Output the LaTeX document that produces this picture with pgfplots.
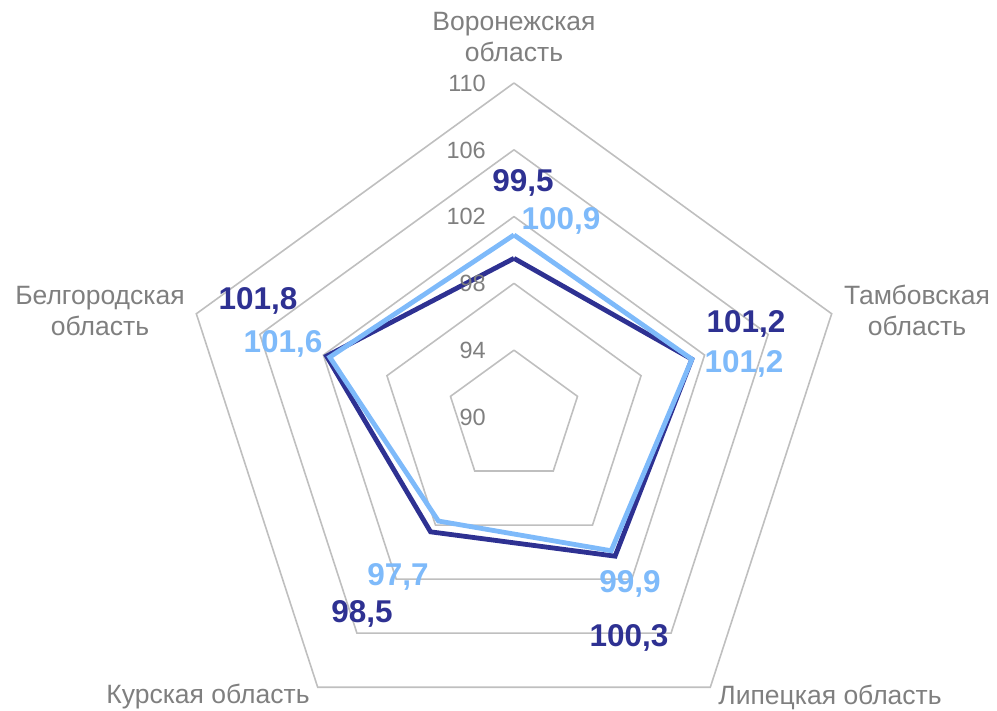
\documentclass[border=0pt]{standalone}
\usepackage{pgfplots}
\pgfplotsset{compat=1.18}
\usepackage{pgfplotstable}
\usepackage{fontspec}
\setmainfont{Liberation Sans}
\definecolor{darkS}{HTML}{2E3192}
\definecolor{lightS}{HTML}{7EBAFA}
\definecolor{gridc}{HTML}{BFBFBF}
\definecolor{txtc}{HTML}{7F7F7F}
\pgfplotstableread{
a dark light
90 99.5 100.9
18 101.2 101.2
-54 100.3 99.9
-126 98.5 97.7
162 101.8 101.6
90 99.5 100.9
}\datatab
\begin{document}
\begin{tikzpicture}
\useasboundingbox (-514pt,-294pt) rectangle (483pt,417pt);
\begin{axis}[at={(0pt,0pt)}, anchor=origin, x=16.7pt, y=16.7pt,
  xmin=-21, xmax=21, ymin=-21, ymax=21, hide axis, clip=false]
\pgfplotsinvokeforeach{94,98,102,106,110}{
  \addplot[gridc, line width=1.6pt, line join=miter] table[x expr={(#1-90)*cos(\thisrow{a})}, y expr={(#1-90)*sin(\thisrow{a})}] {\datatab};
}
\addplot[darkS, line width=4.8pt, line join=miter] table[x expr={(\thisrow{dark}-90)*cos(\thisrow{a})}, y expr={(\thisrow{dark}-90)*sin(\thisrow{a})}] {\datatab};
\addplot[lightS, line width=4.8pt, line join=miter] table[x expr={(\thisrow{light}-90)*cos(\thisrow{a})}, y expr={(\thisrow{light}-90)*sin(\thisrow{a})}] {\datatab};
\end{axis}
% tick labels
\begin{scope}[every node/.style={text=txtc, font=\fontsize{23.5}{26}\selectfont, anchor=base east, inner sep=0pt}]
\node at (-28pt,{417pt-92pt}) {110};
\node at (-28pt,{417pt-159pt}) {106};
\node at (-28pt,{417pt-225pt}) {102};
\node at (-28pt,{417pt-292pt}) {98};
\node at (-28pt,{417pt-359pt}) {94};
\node at (-28pt,{417pt-426pt}) {90};
\end{scope}
% category labels
\begin{scope}[every node/.style={text=txtc, font=\fontsize{26.5}{31}\selectfont, align=center, inner sep=0pt}]
\node at (0pt,380pt) {Воронежская\\область};
\node at (403pt,107pt) {Тамбовская\\область};
\node at (316pt,-280pt) {Липецкая область};
\node at (-306pt,-280pt) {Курская область};
\node at (-414pt,106pt) {Белгородская\\область};
\end{scope}
% data labels
\begin{scope}[every node/.style={font=\fontsize{31.5}{36}\selectfont\bfseries, anchor=base, inner sep=0pt}]
\node[text=darkS] at ({523pt-514pt},{417pt-192pt}) {99,5};
\node[text=lightS] at ({561pt-514pt},{417pt-230pt}) {100,9};
\node[text=darkS] at ({746pt-514pt},{417pt-333pt}) {101,2};
\node[text=lightS] at ({744pt-514pt},{417pt-373pt}) {101,2};
\node[text=lightS] at ({630pt-514pt},{417pt-593pt}) {99,9};
\node[text=darkS] at ({629pt-514pt},{417pt-647pt}) {100,3};
\node[text=lightS] at ({398pt-514pt},{417pt-586pt}) {97,7};
\node[text=darkS] at ({362pt-514pt},{417pt-623pt}) {98,5};
\node[text=darkS] at ({258pt-514pt},{417pt-310pt}) {101,8};
\node[text=lightS] at ({283pt-514pt},{417pt-353pt}) {101,6};
\end{scope}
\end{tikzpicture}
\end{document}
